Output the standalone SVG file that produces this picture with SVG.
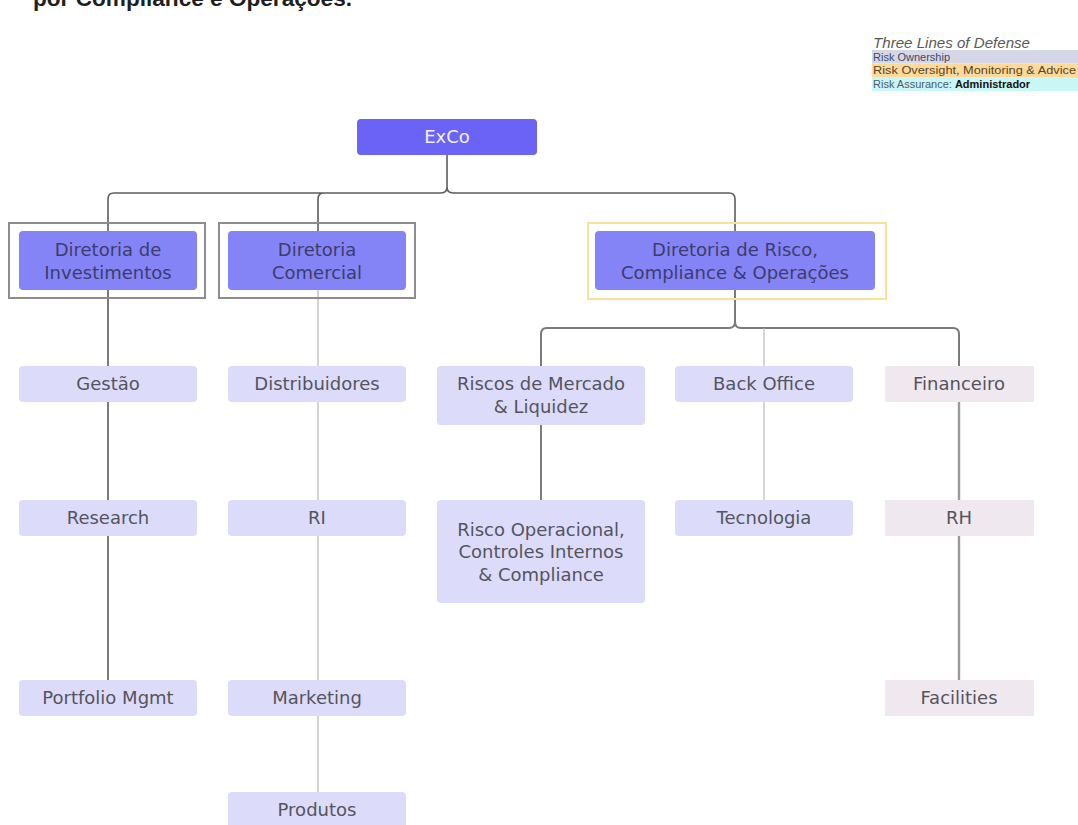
<svg xmlns="http://www.w3.org/2000/svg" width="1078" height="825" viewBox="0 0 1078 825">
<style>
.t{font-family:"DejaVu Sans",sans-serif;font-size:18px;text-anchor:middle}
.sub{fill:#dcdcfa}
.fin{fill:#efe8ee}
.dir{fill:#8584f6}
.st{fill:#54545e}
.dt{fill:#3c3c6c}
.frame{fill:none;stroke:#8d8d8d;stroke-width:2}
.lg{font-family:"Liberation Sans",Arial,sans-serif;font-size:11px}
.c{fill:none;stroke-linecap:round}
</style>
<rect width="1078" height="825" fill="#ffffff"/>
<text x="33" y="6" font-family="Liberation Sans,Arial,sans-serif" font-weight="bold" font-size="22" fill="#1e1e1e" textLength="319" lengthAdjust="spacingAndGlyphs">por Compliance e Operações.</text>

<g id="legend">
<text x="873" y="48" font-family="Liberation Sans,Arial,sans-serif" font-style="italic" font-size="14" fill="#595959" textLength="157" lengthAdjust="spacingAndGlyphs">Three Lines of Defense</text>
<rect x="872" y="50" width="206" height="13.5" fill="#d5d7e8"/>
<rect x="872" y="63.5" width="206" height="13.5" fill="#fdd99b"/>
<rect x="872" y="77" width="206" height="14" fill="#cbf6f6"/>
<text class="lg" x="873" y="60.5" fill="#3d4a66">Risk Ownership</text>
<text class="lg" x="873" y="74" fill="#5a4424" textLength="203" lengthAdjust="spacingAndGlyphs">Risk Oversight, Monitoring &amp; Advice</text>
<text class="lg" x="873" y="88" fill="#4a5a68">Risk Assurance: <tspan font-weight="bold" fill="#111111">Administrador</tspan></text>
</g>

<g id="connectors">
<path class="c" stroke="#5c5c5c" stroke-width="1.6" d="M447,155 V187 Q447,193 441,193 H114 Q108,193 108,199 V231 M447,187 Q447,193 453,193 H729 Q735,193 735,199 V231 M324,193 Q318,193 318,199 V231"/>
<path class="c" stroke="#5a5a5a" stroke-width="1.6" d="M108,290 V680"/>
<path class="c" stroke="#cacaca" stroke-width="1.6" d="M318,290 V792"/>
<path class="c" stroke="#7a7a7a" stroke-width="2" d="M735,290 V322 Q735,328 729,328 H547 Q541,328 541,334 V367 M735,322 Q735,328 741,328 H953 Q959,328 959,334 V367"/>
<path class="c" stroke="#cacaca" stroke-width="1.6" d="M764,329 V500"/>
<path class="c" stroke="#5a5a5a" stroke-width="1.6" d="M541,425 V500"/>
<path class="c" stroke="#9a9a9a" stroke-width="2.4" d="M959,402 V680"/>
</g>

<g id="exco">
<rect x="357" y="119" width="180" height="36" rx="4" fill="#6a63f5"/>
<text class="t" x="447" y="143" font-size="17" fill="#f2f2ff">ExCo</text>
</g>

<g id="dir-investimentos">
<rect class="frame" x="9" y="223" width="196" height="75"/>
<rect class="dir" x="19" y="231" width="178" height="59" rx="4"/>
<text class="t dt" x="108" y="256">Diretoria de</text>
<text class="t dt" x="108" y="279">Investimentos</text>
</g>

<g id="dir-comercial">
<rect class="frame" x="219" y="223" width="196" height="75"/>
<rect class="dir" x="228" y="231" width="178" height="59" rx="4"/>
<text class="t dt" x="317" y="256">Diretoria</text>
<text class="t dt" x="317" y="279">Comercial</text>
</g>

<g id="dir-risco">
<rect x="588" y="223" width="298" height="76" fill="none" stroke="#f7e29a" stroke-width="2"/>
<rect class="dir" x="595" y="231" width="280" height="59" rx="4"/>
<text class="t dt" x="735" y="256">Diretoria de Risco,</text>
<text class="t dt" x="735" y="279">Compliance &amp; Operações</text>
</g>

<g id="gestao"><rect class="sub" x="19" y="366" width="178" height="36" rx="4"/><text class="t st" x="108" y="390">Gestão</text></g>
<g id="research"><rect class="sub" x="19" y="500" width="178" height="36" rx="4"/><text class="t st" x="108" y="524">Research</text></g>
<g id="portfolio"><rect class="sub" x="19" y="680" width="178" height="36" rx="4"/><text class="t st" x="108" y="704">Portfolio Mgmt</text></g>

<g id="distribuidores"><rect class="sub" x="228" y="366" width="178" height="36" rx="4"/><text class="t st" x="317" y="390">Distribuidores</text></g>
<g id="ri"><rect class="sub" x="228" y="500" width="178" height="36" rx="4"/><text class="t st" x="317" y="524">RI</text></g>
<g id="marketing"><rect class="sub" x="228" y="680" width="178" height="36" rx="4"/><text class="t st" x="317" y="704">Marketing</text></g>
<g id="produtos"><rect class="sub" x="228" y="792" width="178" height="40" rx="4"/><text class="t st" x="317" y="816">Produtos</text></g>

<g id="riscos-mercado"><rect class="sub" x="437" y="366" width="208" height="59" rx="4"/><text class="t st" x="541" y="390">Riscos de Mercado</text><text class="t st" x="541" y="413">&amp; Liquidez</text></g>
<g id="risco-operacional"><rect class="sub" x="437" y="500" width="208" height="103" rx="4"/><text class="t st" x="541" y="536">Risco Operacional,</text><text class="t st" x="541" y="558">Controles Internos</text><text class="t st" x="541" y="581">&amp; Compliance</text></g>

<g id="back-office"><rect class="sub" x="675" y="366" width="178" height="36" rx="4"/><text class="t st" x="764" y="390">Back Office</text></g>
<g id="tecnologia"><rect class="sub" x="675" y="500" width="178" height="36" rx="4"/><text class="t st" x="764" y="524">Tecnologia</text></g>

<g id="financeiro"><rect class="fin" x="885" y="366" width="149" height="36" rx="1"/><text class="t st" x="959" y="390">Financeiro</text></g>
<g id="rh"><rect class="fin" x="885" y="500" width="149" height="36" rx="1"/><text class="t st" x="959" y="524">RH</text></g>
<g id="facilities"><rect class="fin" x="885" y="680" width="149" height="36" rx="1"/><text class="t st" x="959" y="704">Facilities</text></g>
</svg>
